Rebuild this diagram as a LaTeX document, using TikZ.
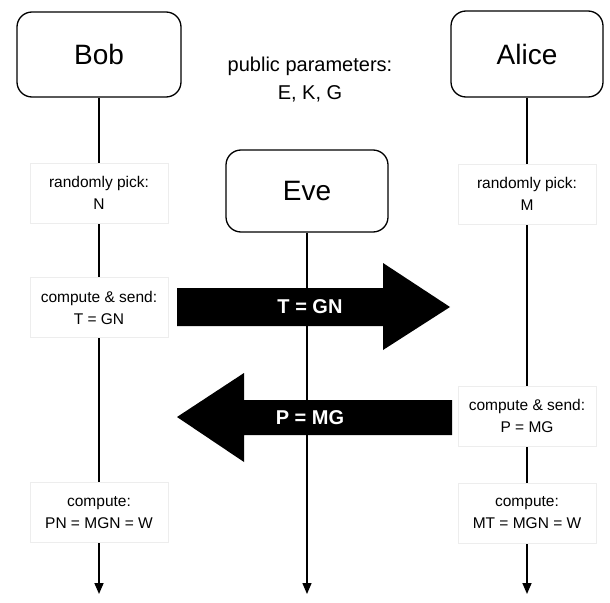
\documentclass[tikz,border=0pt]{standalone}
\usepackage{fontspec}
\setmainfont{Liberation Sans}
\usetikzlibrary{arrows.meta}
\begin{document}
\begin{tikzpicture}[x=1pt,y=-1pt,
  actor/.style={draw=black,line width=1.3pt,rounded corners=15pt,fill=white,font=\fontsize{28}{30}\selectfont},
  stepbox/.style={draw=black!7,fill=white,minimum width=138pt,minimum height=60pt,align=center,inner sep=1pt,font=\fontsize{15.5}{22}\selectfont},
  life/.style={line width=1.6pt,-{Triangle[length=11pt,width=9pt]}},
  bigarrow/.style={fill=black},
  msg/.style={text=white,font=\bfseries\fontsize{20}{22}\selectfont}]
\useasboundingbox (0,0) rectangle (610,602);
% actors
\node[actor,minimum width=164pt,minimum height=85pt] (bob) at (99,54.5) {Bob};
\node[actor,minimum width=152pt,minimum height=86pt] (alice) at (527,54) {Alice};
\node[actor,minimum width=162pt,minimum height=82pt] (eve) at (307,191) {Eve};
\node[align=center,font=\fontsize{20}{28}\selectfont] (pub) at (310,80) {public parameters:\\E, K, G};
% lifeline ends
\coordinate (bobend) at (99,594);
\coordinate (aliceend) at (527,594);
\coordinate (eveend) at (307,594);
\draw[life] (bob.south) -- (bobend);
\draw[life] (alice.south) -- (aliceend);
\draw[life,line width=1.3pt] (eve.south) -- (eveend);
% steps Bob
\node[stepbox] (b1) at (99,193) {randomly pick:\\N};
\node[stepbox] (b2) at (99,307.5) {compute \& send:\\T = GN};
\node[stepbox] (b3) at (99,512.5) {compute:\\PN = MGN = W};
% steps Alice
\node[stepbox] (a1) at (527,194) {randomly pick:\\M};
\node[stepbox] (a2) at (527,416) {compute \& send:\\P = MG};
\node[stepbox] (a3) at (527,513) {compute:\\MT = MGN = W};
% big message arrows
\fill[bigarrow] (177,288) -- (383,288) -- (383,263) -- (450,307) -- (383,350) -- (383,326) -- (177,326) -- cycle;
\node[msg] (tgn) at (310,307) {T = GN};
\fill[bigarrow] (452,400) -- (244,400) -- (244,373) -- (177,417) -- (244,462) -- (244,435) -- (452,435) -- cycle;
\node[msg] (pmg) at (310,418) {P = MG};
\end{tikzpicture}
\end{document}
